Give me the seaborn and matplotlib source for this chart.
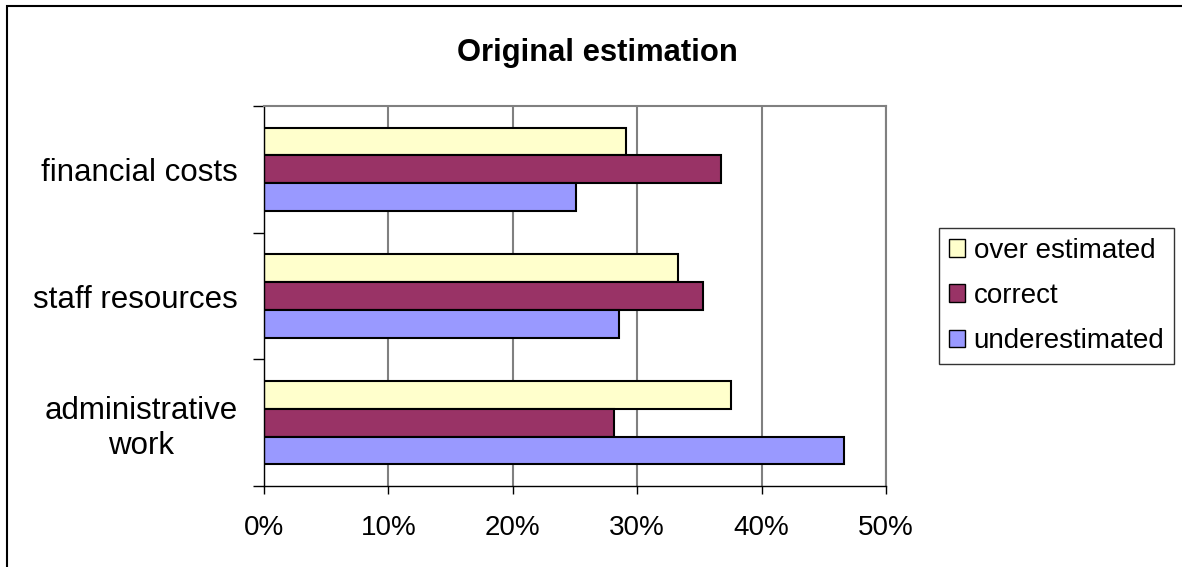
import matplotlib
matplotlib.use("Agg")
import matplotlib.pyplot as plt
import matplotlib.patches as mpatches
from matplotlib.ticker import FixedLocator
import pandas as pd
import seaborn as sns

categories = ["financial costs", "staff resources", "administrative\nwork"]
series = ["over estimated", "correct", "underestimated"]
over_estimated = [29.1, 33.3, 37.5]
correct = [36.7, 35.3, 28.1]
underestimated = [25.1, 28.5, 46.6]
x_ticks = [0, 10, 20, 30, 40, 50]
x_labels = ["0%", "10%", "20%", "30%", "40%", "50%"]

colors = {"over estimated": "#FFFFCC", "correct": "#993366", "underestimated": "#9999FF"}

df = pd.DataFrame({
	"category": categories * 3,
	"series": [s for s in series for _ in categories],
	"value": over_estimated + correct + underestimated,
})

sns.set_style("white")
plt.rcParams["font.family"] = ["Liberation Sans", "DejaVu Sans"]
plt.rcParams["text.color"] = "black"
plt.rcParams["xtick.color"] = "black"
plt.rcParams["ytick.color"] = "black"

fig = plt.figure(figsize=(11.82, 5.67), dpi=100)
ax = fig.add_axes([264 / 1182, 1 - 486 / 567, (886 - 264) / 1182, (486 - 106) / 567])

sns.barplot(data=df, y="category", x="value", hue="series", order=categories, hue_order=series,
	palette=colors, saturation=1, width=0.66, edgecolor="black", linewidth=1.5, orient="h",
	ax=ax, legend=False)

ax.set_xlim(0, 50)
ax.set_ylim(2.5, -0.5)
ax.set_xticks(x_ticks)
ax.set_xticklabels(x_labels, fontsize=20)
ax.xaxis.grid(True, color="#808080", linewidth=1.5)
ax.set_axisbelow(True)
ax.set_xlabel("")
ax.set_ylabel("")
ax.tick_params(axis="x", length=6, width=1, color="black", direction="out", pad=15, bottom=True)
ax.tick_params(axis="y", which="major", length=0, pad=19, labelsize=22.5)
ax.yaxis.set_minor_locator(FixedLocator([-0.5, 0.5, 1.5, 2.5]))
ax.tick_params(axis="y", which="minor", length=8, width=1, color="black", left=True)
for t in ax.get_yticklabels():
	t.set_multialignment("center")

for side in ["top", "right"]:
	ax.spines[side].set_visible(True)
	ax.spines[side].set_color("#808080")
	ax.spines[side].set_linewidth(1.5)
for side in ["left", "bottom"]:
	ax.spines[side].set_color("black")
	ax.spines[side].set_linewidth(1)

fig.text(597 / 1182, 1 - 53 / 567, "Original estimation", ha="center", va="center",
	fontsize=22.3, fontweight="bold")

handles = [mpatches.Patch(facecolor=colors[s], edgecolor="black", linewidth=1, label=s) for s in series]
leg = fig.legend(handles=handles, loc="center left", bbox_to_anchor=(939 / 1182, 1 - 296 / 567),
	fontsize=20, frameon=True, fancybox=False, handlelength=0.6, handleheight=0.6,
	handletextpad=0.3, labelspacing=0.7, borderpad=0.35, borderaxespad=0)
leg.get_frame().set_edgecolor("black")
leg.get_frame().set_linewidth(1)

fig.patches.append(mpatches.Rectangle((7 / 1182, -0.5), 2, 1.5 - 6 / 567, transform=fig.transFigure,
	fill=False, edgecolor="black", linewidth=1.5, clip_on=False))

fig.savefig("out.png", dpi=100)
